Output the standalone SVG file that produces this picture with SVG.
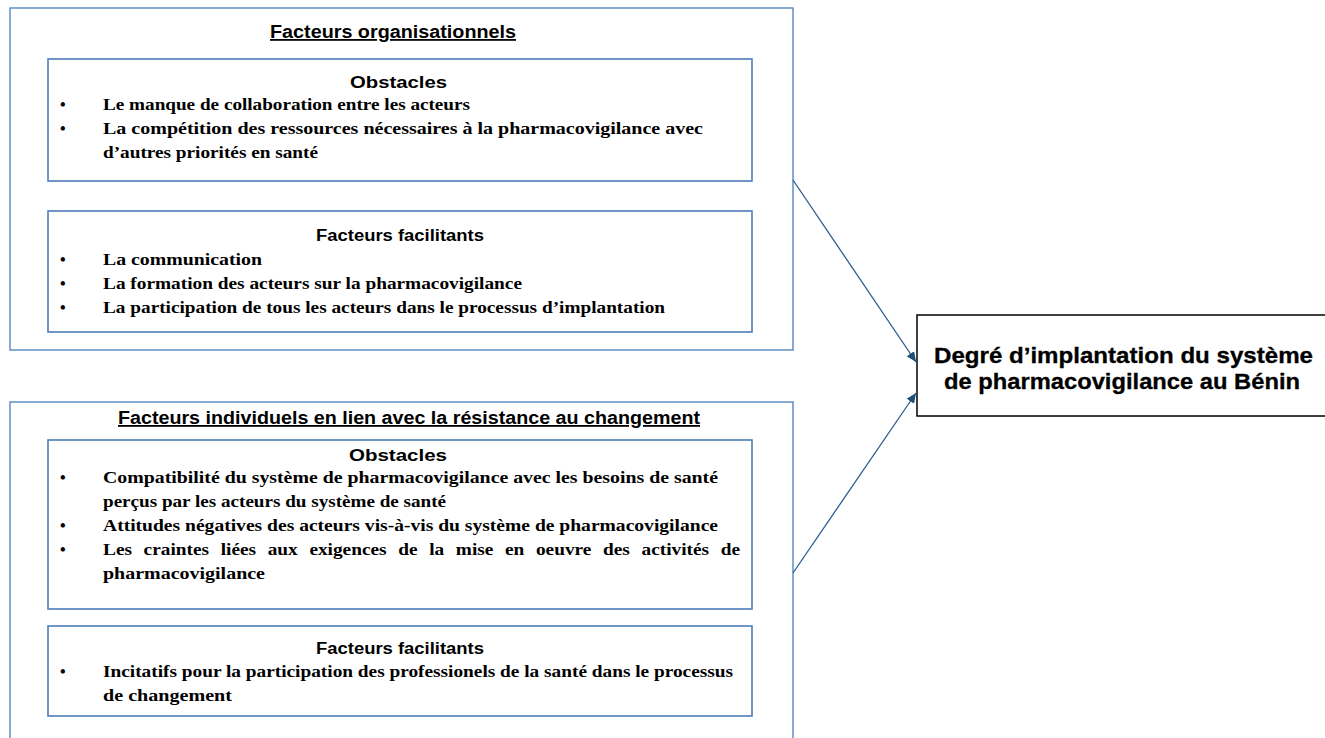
<svg xmlns="http://www.w3.org/2000/svg" width="1325" height="738" viewBox="0 0 1325 738">
  <style>
    .outer { fill: #ffffff; stroke: #4a7ebb; stroke-width: 1.3; }
    .inner { fill: #ffffff; stroke: #4a7ebb; stroke-width: 1.6; }
    .target { fill: #ffffff; stroke: #000000; stroke-width: 1.5; }
    .title { font-family: "Liberation Sans", Arial, sans-serif; font-weight: bold; font-size: 18px; fill: #000; text-decoration: underline; }
    .head { font-family: "Liberation Sans", Arial, sans-serif; font-weight: bold; font-size: 16px; fill: #000; }
    .item { font-family: "Liberation Serif", "Times New Roman", serif; font-weight: bold; font-size: 17px; fill: #000; }
    .bul { font-family: "Liberation Serif", "Times New Roman", serif; font-weight: bold; font-size: 16px; fill: #000; }
    .big { font-family: "Liberation Sans", Arial, sans-serif; font-weight: bold; font-size: 22px; fill: #000; stroke: #000; stroke-width: 0.3; }
    .link { fill: none; stroke: #2e5c8a; stroke-width: 1.3; }
  </style>
  <defs>
    <marker id="arrow" viewBox="0 0 10 10" refX="10" refY="5" markerWidth="10" markerHeight="10" markerUnits="userSpaceOnUse" orient="auto">
      <path d="M0,0.5 L10,5 L0,9.5 Z" fill="#1f4e79"/>
    </marker>
  </defs>

  <rect width="1325" height="738" fill="#ffffff"/>

  <!-- Organisational factors -->
  <g id="org">
    <rect class="outer" x="10" y="8" width="783" height="342"/>
    <text class="title" x="270" y="38" textLength="246" lengthAdjust="spacingAndGlyphs">Facteurs organisationnels</text>
  </g>
  <g id="org-obstacles">
    <rect class="inner" x="48" y="59" width="704" height="122"/>
    <text class="head" x="350" y="88" textLength="97" lengthAdjust="spacingAndGlyphs">Obstacles</text>
    <text class="bul" x="60" y="110">•</text>
    <text class="item" x="103" y="110" textLength="367" lengthAdjust="spacingAndGlyphs">Le manque de collaboration entre les acteurs</text>
    <text class="bul" x="60" y="134">•</text>
    <text class="item" x="103" y="134" textLength="600" lengthAdjust="spacingAndGlyphs">La compétition des ressources nécessaires à la pharmacovigilance avec</text>
    <text class="item" x="103" y="158" textLength="215" lengthAdjust="spacingAndGlyphs">d’autres priorités en santé</text>
  </g>
  <g id="org-facilitants">
    <rect class="inner" x="48" y="211" width="704" height="121"/>
    <text class="head" x="316" y="241" textLength="168" lengthAdjust="spacingAndGlyphs">Facteurs facilitants</text>
    <text class="bul" x="60" y="265">•</text>
    <text class="item" x="103" y="265" textLength="159" lengthAdjust="spacingAndGlyphs">La communication</text>
    <text class="bul" x="60" y="289">•</text>
    <text class="item" x="103" y="289" textLength="419" lengthAdjust="spacingAndGlyphs">La formation des acteurs sur la pharmacovigilance</text>
    <text class="bul" x="60" y="313">•</text>
    <text class="item" x="103" y="313" textLength="562" lengthAdjust="spacingAndGlyphs">La participation de tous les acteurs dans le processus d’implantation</text>
  </g>

  <!-- Individual factors -->
  <g id="indiv">
    <rect class="outer" x="10" y="402" width="783" height="345"/>
    <text class="title" x="118" y="424" textLength="582" lengthAdjust="spacingAndGlyphs">Facteurs individuels en lien avec la résistance au changement</text>
  </g>
  <g id="indiv-obstacles">
    <rect class="inner" x="48" y="440" width="704" height="169"/>
    <text class="head" x="349" y="461" textLength="98" lengthAdjust="spacingAndGlyphs">Obstacles</text>
    <text class="bul" x="60" y="483">•</text>
    <text class="item" x="103" y="483" textLength="615" lengthAdjust="spacingAndGlyphs">Compatibilité du système de pharmacovigilance avec les besoins de santé</text>
    <text class="item" x="103" y="507" textLength="343" lengthAdjust="spacingAndGlyphs">perçus par les acteurs du système de santé</text>
    <text class="bul" x="60" y="531">•</text>
    <text class="item" x="103" y="531" textLength="615" lengthAdjust="spacingAndGlyphs">Attitudes négatives des acteurs vis-à-vis du système de pharmacovigilance</text>
    <text class="bul" x="60" y="555">•</text>
    <text class="item" x="103" y="555" textLength="637" lengthAdjust="spacingAndGlyphs" word-spacing="6">Les craintes liées aux exigences de la mise en oeuvre des activités de</text>
    <text class="item" x="103" y="579" textLength="162" lengthAdjust="spacingAndGlyphs">pharmacovigilance</text>
  </g>
  <g id="indiv-facilitants">
    <rect class="inner" x="48" y="626" width="704" height="90"/>
    <text class="head" x="316" y="654" textLength="168" lengthAdjust="spacingAndGlyphs">Facteurs facilitants</text>
    <text class="bul" x="60" y="677">•</text>
    <text class="item" x="103" y="677" textLength="630" lengthAdjust="spacingAndGlyphs">Incitatifs pour la participation des professionels de la santé dans le processus</text>
    <text class="item" x="103" y="701" textLength="129" lengthAdjust="spacingAndGlyphs">de changement</text>
  </g>

  <!-- Outcome -->
  <g id="outcome">
    <rect class="target" x="917" y="315" width="420" height="101"/>
    <text class="big" x="934" y="363" textLength="379" lengthAdjust="spacingAndGlyphs">Degré d’implantation du système</text>
    <text class="big" x="944" y="389" textLength="356" lengthAdjust="spacingAndGlyphs">de pharmacovigilance au Bénin</text>
  </g>

  <g id="connectors">
    <line class="link" x1="793" y1="180" x2="916" y2="362" marker-end="url(#arrow)"/>
    <line class="link" x1="793" y1="573" x2="916" y2="393" marker-end="url(#arrow)"/>
  </g>
</svg>
